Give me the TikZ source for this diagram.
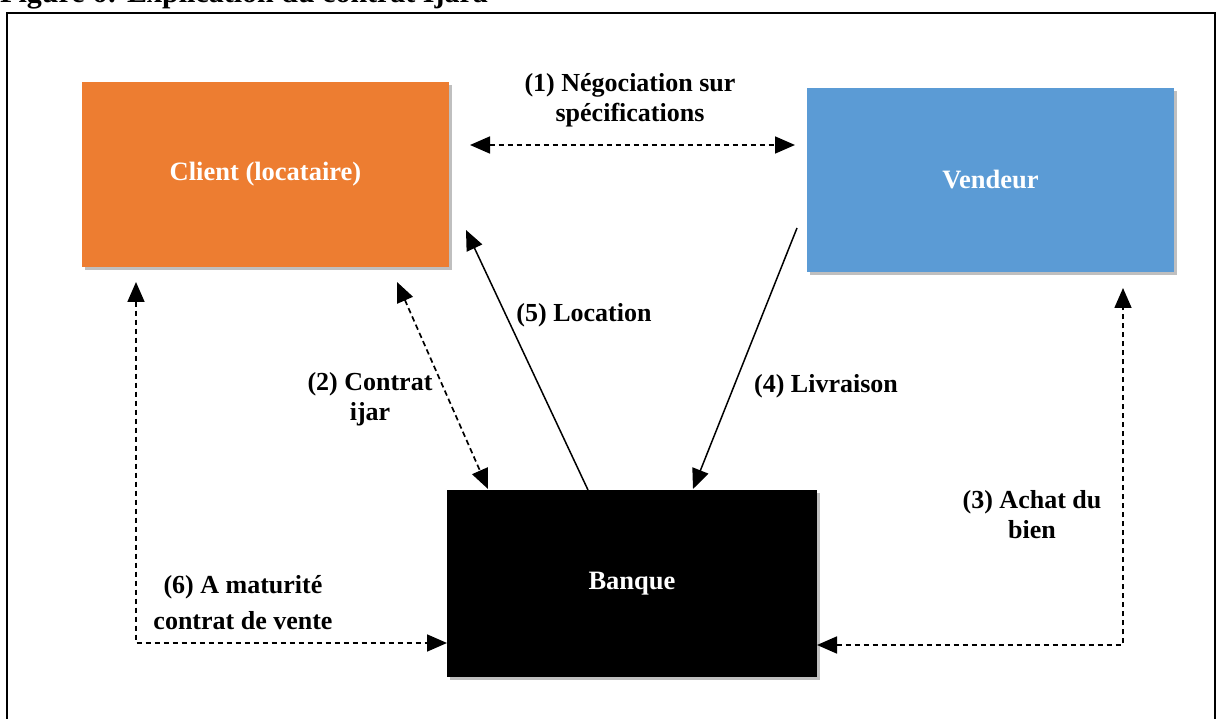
\documentclass[tikz,border=0pt]{standalone}
\usepackage{fontspec}
\setmainfont{Liberation Serif}
\usetikzlibrary{arrows.meta,calc,shadows}
\definecolor{corange}{HTML}{ED7D31}
\definecolor{cblue}{HTML}{5B9BD5}
\begin{document}
\begin{tikzpicture}[x=1pt,y=-1pt,
 box/.style={rectangle, inner sep=0pt, outer sep=0pt, text=white,
   font=\fontsize{26.5}{30}\selectfont\bfseries,
   drop shadow={shadow xshift=3pt,shadow yshift=-3pt,opacity=0.25,fill=black}},
 lbl/.style={align=center, inner sep=0pt, font=\fontsize{26}{30}\selectfont\bfseries},
 tip/.tip={Triangle[length=20pt,width=17pt]},
 conn/.style={line width=1.5pt, -tip},
 dconn/.style={line width=1.7pt, dash pattern=on 5.5pt off 3.5pt, tip-tip},
]
\useasboundingbox (0,0) rectangle (1219,719);
\clip (0,0) rectangle (1219,719);
% frame and cut title
\draw[line width=2pt] (7,760) -- (7,13) -- (1215,13) -- (1215,760);
\node[anchor=base west, inner sep=0pt, font=\fontsize{30}{34}\selectfont\bfseries] (title) at (0,3) {Figure 6: Explication du contrat Ijara};
% boxes
\node[box, fill=corange, minimum width=367pt, minimum height=185pt] (client) at (265.5,174.5) {Client (locataire)};
\node[box, fill=cblue, minimum width=367pt, minimum height=184pt] (vendeur) at (990.5,180) {Vendeur};
\node[box, fill=black, minimum width=370pt, minimum height=187pt] (banque) at (632,583.5) {Banque};
% connectors
\draw[dconn] ($(client.east)+(21,-29.5)$) -- ($(vendeur.west)+(-12,-35)$);
\draw[dconn] ($(client.south east)+(-52,15)$) -- ($(banque.north west)+(41,-1)$);
\draw[conn] ($(banque.north west)+(141,0)$) -- ($(client.south east)+(17,-37)$);
\draw[conn] ($(vendeur.south west)+(-10,-44)$) -- ($(banque.north east)+(-124,-1)$);
\draw[dconn] ($(banque.east)+(0,61.5)$) -| ($(vendeur.south east)+(-51,16)$);
\draw[dconn] ($(client.south west)+(54,15)$) |- ($(banque.west)+(0,59.5)$);
% labels
\node[lbl] (l1) at (630,100.5) {(1) Négociation sur\\spécifications};
\node[lbl] (l2) at (370,399) {(2) Contrat\\ijar};
\node[lbl] (l3) at (1032,515) {(3) Achat du\\bien};
\node[lbl, anchor=base] (l4) at (826,393) {(4) Livraison};
\node[lbl, anchor=base] (l5) at (584,322) {(5) Location};
\node[lbl] (l6) at (243,603) {(6) A maturité\\[6pt]contrat de vente};
\end{tikzpicture}
\end{document}
